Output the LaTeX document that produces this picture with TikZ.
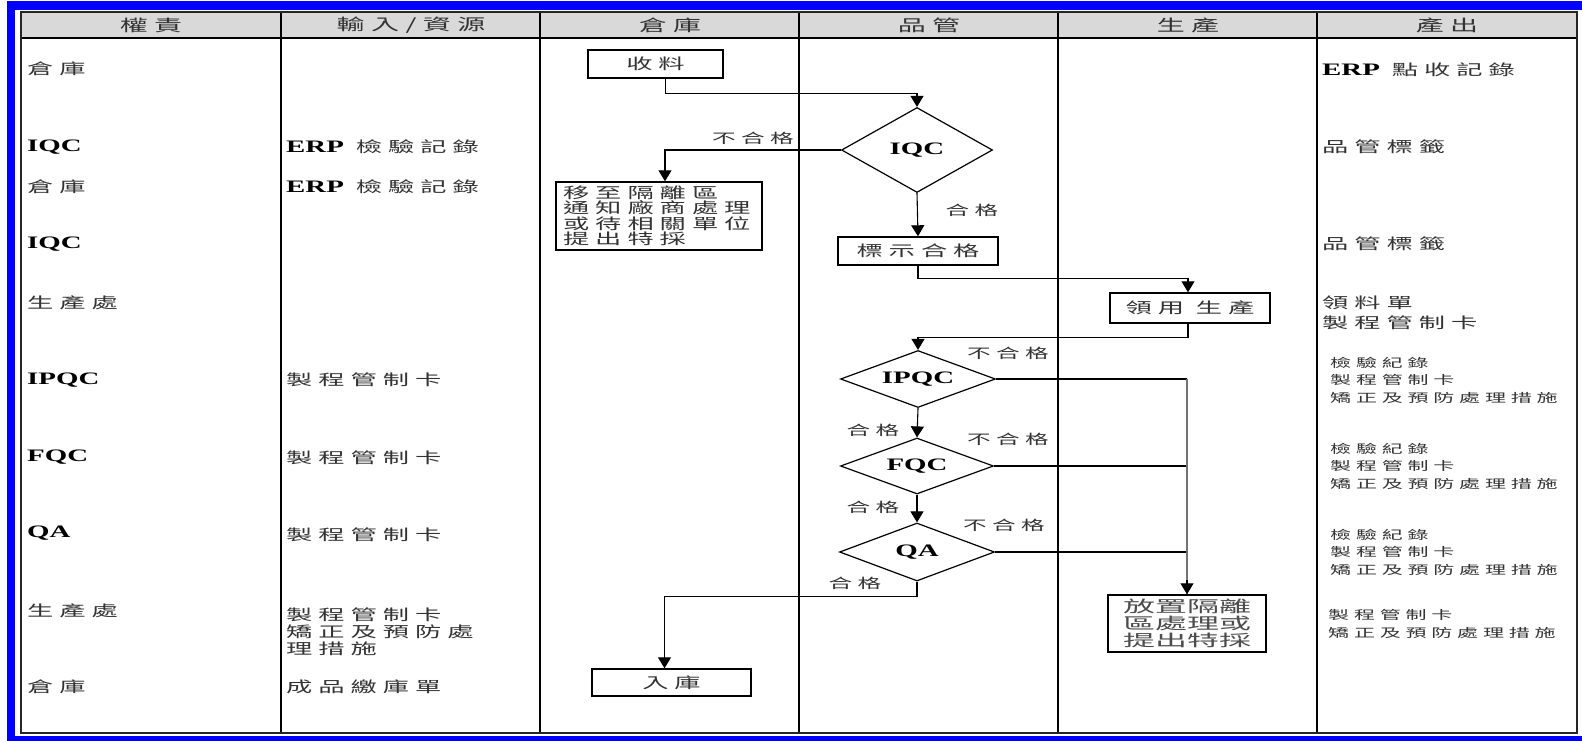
\documentclass[tikz,border=0pt]{standalone}
\usepackage{fontspec}
\setmainfont[FakeStretch=1.65]{Liberation Serif}
\newfontfamily\cjk[FakeStretch=1.75,LetterSpace=40]{Noto Sans CJK TC}
\newfontfamily\cjkwide[FakeStretch=2.0]{Noto Sans CJK TC}
\usetikzlibrary{shapes.geometric,arrows.meta}

\newcommand\bodyfont{\cjk\fontsize{15}{17}\selectfont}
\newcommand\boxfont{\cjk\fontsize{15}{15.5}\selectfont}
\newcommand\smallfont{\cjk\fontsize{12}{17.5}\selectfont}
\newcommand\headfont{\cjk\fontsize{16}{18}\selectfont}
\newcommand\lblfont{\cjk\fontsize{13.5}{16}\selectfont}
\newcommand\widefont{\cjkwide\fontsize{16}{17}\selectfont}
\newcommand\latfont{\rmfamily\bfseries\fontsize{17.5}{18}\selectfont}
\newcommand\lat[1]{{\latfont\color{black}#1}}

\begin{document}
\begin{tikzpicture}[x=1pt,y=-1pt,
  box/.style={draw,line width=1.4pt,inner sep=0pt,font=\bodyfont,text=black!80},
  dia/.style={draw,diamond,aspect=2.7,line width=1.2pt,inner sep=0pt,font=\latfont},
  arr/.style={line width=1.1pt,-{Triangle[width=13pt,length=11pt]}},
  ln/.style={line width=1.1pt},
  lbl/.style={inner sep=0pt,font=\lblfont,text=black!80},
  txt/.style={anchor=west,inner sep=0pt,align=left,font=\bodyfont,text=black!80},
  smalltxt/.style={txt,font=\smallfont},
  head/.style={inner sep=0pt,font=\headfont,text=black!80}]
\useasboundingbox (0,0) rectangle (1582,741);
\fill[white] (0,0) rectangle (1582,741);
% blue frame
\fill[blue] (7,1) rectangle (1582,10);
\fill[blue] (7,1) rectangle (15,741);
\fill[blue] (7,736) rectangle (1582,741);
% table
\fill[black!15] (21,12) rectangle (1577,38);
\foreach \x in {281,540,799,1058,1317} \draw[line width=1.5pt] (\x,12) -- (\x,733);
\draw[line width=2pt] (21,38) -- (1577,38);
\draw[line width=2.2pt,black!85] (21,12) rectangle (1577,733);
\node[head] (h1) at (151,25) {權責};
\node[head] (h2) at (411,25) {輸入/資源};
\node[head] (h3) at (670,25) {倉庫};
\node[head] (h4) at (929,25) {品管};
\node[head] (h5) at (1188,25) {生產};
\node[head] (h6) at (1447,25) {產出};
% column 1
\node[txt] (who1) at (27,69) {倉庫};
\node[txt] (who2) at (27,147) {\lat{IQC}};
\node[txt] (who3) at (27,187) {倉庫};
\node[txt] (who4) at (27,244) {\lat{IQC}};
\node[txt] (who5) at (27,303) {生產處};
\node[txt] (who6) at (27,380) {\lat{IPQC}};
\node[txt] (who7) at (27,457) {\lat{FQC}};
\node[txt] (who8) at (27,533) {\lat{QA}};
\node[txt] (who9) at (27,611) {生產處};
\node[txt] (who10) at (27,687) {倉庫};
% column 2
\node[txt] (in1) at (286,147) {\lat{ERP} 檢驗記錄};
\node[txt] (in2) at (286,187) {\lat{ERP} 檢驗記錄};
\node[txt] (in3) at (286,380) {製程管制卡};
\node[txt] (in4) at (286,458) {製程管制卡};
\node[txt] (in5) at (286,535) {製程管制卡};
\node[txt] (in6) at (286,632) {製程管制卡\\矯正及預防處\\理措施};
\node[txt] (in7) at (286,687) {成品繳庫單};
% column 6
\node[txt] (out1) at (1322,70) {\lat{ERP} 點收記錄};
\node[txt] (out2) at (1322,147) {品管標籤};
\node[txt] (out3) at (1322,244) {品管標籤};
\node[txt,font=\cjk\fontsize{15}{20}\selectfont] (out4) at (1322,313) {領料單\\製程管制卡};
\node[smalltxt] (out5) at (1330,380) {檢驗紀錄\\製程管制卡\\矯正及預防處理措施};
\node[smalltxt] (out6) at (1330,466) {檢驗紀錄\\製程管制卡\\矯正及預防處理措施};
\node[smalltxt] (out7) at (1330,552) {檢驗紀錄\\製程管制卡\\矯正及預防處理措施};
\node[smalltxt] (out8) at (1328,624) {製程管制卡\\矯正及預防處理措施};
% flow
\node[box,minimum width=135pt,minimum height=28pt] (shouliao) at (655.5,64) {收料};
\node[dia,minimum width=151pt,minimum height=85pt] (iqc) at (917,150) {IQC};
\node[box,minimum width=206pt,minimum height=68pt,text width=192pt,inner xsep=7pt,align=left,font=\boxfont] (quar) at (659,216) {移至隔離區\\通知廠商處理\\或待相關單位\\提出特採};
\node[box,minimum width=160pt,minimum height=28pt] (mark) at (918,251) {標示合格};
\node[box,minimum width=160pt,minimum height=30pt] (lingyong) at (1190,308) {領用 生產};
\node[dia,minimum width=155pt,minimum height=57pt] (ipqc) at (918,379) {IPQC};
\node[dia,minimum width=153pt,minimum height=56pt] (fqc) at (917,466) {FQC};
\node[dia,minimum width=155pt,minimum height=58pt] (qa) at (917,552) {QA};
\node[box,minimum width=159pt,minimum height=27pt] (ruku) at (671.5,682.5) {入庫};
\node[box,minimum width=158pt,minimum height=57pt,align=center,font=\widefont,text=black!70] (fangzhi) at (1187,623.5) {放置隔離\\區處理或\\提出特採};
\node[lbl] (ng1) at (753,138) {不合格};
\node[lbl] (ok1) at (972,210) {合格};
\node[lbl] (ng2) at (1008,353) {不合格};
\node[lbl] (ok2) at (873,430) {合格};
\node[lbl] (ng3) at (1008,439) {不合格};
\node[lbl] (ok3) at (873,507) {合格};
\node[lbl] (ng4) at (1004,525) {不合格};
\node[lbl] (ok4) at (855,583) {合格};
\draw[arr] ([xshift=10pt]shouliao.south) -- ++(0,15) -| (iqc.north);
\draw[arr] (iqc.west) -| ([xshift=6pt]quar.north);
\draw[arr] (iqc.south) -- (mark.north);
\draw[arr] (mark.south) -- ++(0,13) -| ([xshift=-2pt]lingyong.north);
\draw[arr] ([xshift=-2pt]lingyong.south) -- ++(0,14) -| (ipqc.north);
\draw[arr] (ipqc.south) -- (fqc.north);
\draw[arr] (fqc.south) -- (qa.north);
\draw[arr] (qa.south) -- ++(0,15) -| ([xshift=-7pt]ruku.north);
\coordinate (bus) at (ipqc.east -| fangzhi.north);
\draw[ln] (ipqc.east) -- (bus);
\draw[ln] (fqc.east) -- (fqc.east -| bus);
\draw[ln] (qa.east) -- (qa.east -| bus);
\draw[line width=2pt,black!55] (bus) -- (fangzhi.north);
\draw[arr] ([yshift=14pt]fangzhi.north) -- (fangzhi.north);
\end{tikzpicture}
\end{document}
